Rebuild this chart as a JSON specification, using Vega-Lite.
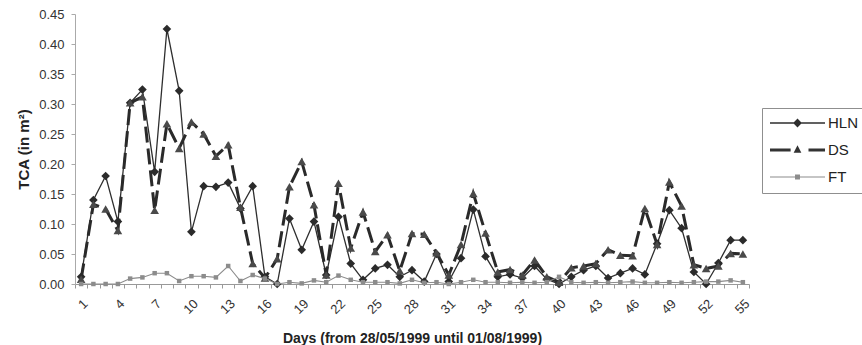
{
  "$schema": "https://vega.github.io/schema/vega-lite/v6.json",
  "width": 674,
  "height": 270,
  "autosize": {"type": "none"},
  "padding": {"left": 75, "top": 14, "right": 113, "bottom": 61},
  "background": "white",
  "config": {
    "view": {"stroke": null},
    "font": "Liberation Sans",
    "axisX": {"labelAngle": -45},
    "legend": {"labelFont": "Liberation Sans", "labelFontSize": 15, "labelColor": "#222", "labelOffset": 3, "labelLimit": 0, "symbolOpacity": 1, "symbolStrokeWidth": 0, "clipHeight": 14, "rowPadding": 12, "padding": 8, "strokeColor": "#8f8f8f", "fillColor": "white"}
  },
  "data": {"values": [
    {"day":1,"series":"HLN","tca":0.012},{"day":2,"series":"HLN","tca":0.14},{"day":3,"series":"HLN","tca":0.18},{"day":4,"series":"HLN","tca":0.104},{"day":5,"series":"HLN","tca":0.302},
    {"day":6,"series":"HLN","tca":0.324},{"day":7,"series":"HLN","tca":0.187},{"day":8,"series":"HLN","tca":0.425},{"day":9,"series":"HLN","tca":0.322},{"day":10,"series":"HLN","tca":0.087},
    {"day":11,"series":"HLN","tca":0.163},{"day":12,"series":"HLN","tca":0.162},{"day":13,"series":"HLN","tca":0.169},{"day":14,"series":"HLN","tca":0.126},{"day":15,"series":"HLN","tca":0.163},
    {"day":16,"series":"HLN","tca":0.012},{"day":17,"series":"HLN","tca":0.0},{"day":18,"series":"HLN","tca":0.109},{"day":19,"series":"HLN","tca":0.057},{"day":20,"series":"HLN","tca":0.104},
    {"day":21,"series":"HLN","tca":0.015},{"day":22,"series":"HLN","tca":0.112},{"day":23,"series":"HLN","tca":0.034},{"day":24,"series":"HLN","tca":0.007},{"day":25,"series":"HLN","tca":0.026},
    {"day":26,"series":"HLN","tca":0.032},{"day":27,"series":"HLN","tca":0.012},{"day":28,"series":"HLN","tca":0.023},{"day":29,"series":"HLN","tca":0.004},{"day":30,"series":"HLN","tca":0.05},
    {"day":31,"series":"HLN","tca":0.004},{"day":32,"series":"HLN","tca":0.043},{"day":33,"series":"HLN","tca":0.124},{"day":34,"series":"HLN","tca":0.046},{"day":35,"series":"HLN","tca":0.012},
    {"day":36,"series":"HLN","tca":0.016},{"day":37,"series":"HLN","tca":0.01},{"day":38,"series":"HLN","tca":0.03},{"day":39,"series":"HLN","tca":0.008},{"day":40,"series":"HLN","tca":0.0},
    {"day":41,"series":"HLN","tca":0.012},{"day":42,"series":"HLN","tca":0.023},{"day":43,"series":"HLN","tca":0.03},{"day":44,"series":"HLN","tca":0.01},{"day":45,"series":"HLN","tca":0.018},
    {"day":46,"series":"HLN","tca":0.026},{"day":47,"series":"HLN","tca":0.016},{"day":48,"series":"HLN","tca":0.067},{"day":49,"series":"HLN","tca":0.123},{"day":50,"series":"HLN","tca":0.093},
    {"day":51,"series":"HLN","tca":0.02},{"day":52,"series":"HLN","tca":0.0},{"day":53,"series":"HLN","tca":0.035},{"day":54,"series":"HLN","tca":0.073},{"day":55,"series":"HLN","tca":0.073},

    {"day":1,"series":"DS","tca":0.008},{"day":2,"series":"DS","tca":0.133},{"day":3,"series":"DS","tca":0.125},{"day":4,"series":"DS","tca":0.089},{"day":5,"series":"DS","tca":0.302},
    {"day":6,"series":"DS","tca":0.312},{"day":7,"series":"DS","tca":0.123},{"day":8,"series":"DS","tca":0.267},{"day":9,"series":"DS","tca":0.226},{"day":10,"series":"DS","tca":0.27},
    {"day":11,"series":"DS","tca":0.25},{"day":12,"series":"DS","tca":0.213},{"day":13,"series":"DS","tca":0.232},{"day":14,"series":"DS","tca":0.128},{"day":15,"series":"DS","tca":0.034},
    {"day":16,"series":"DS","tca":0.01},{"day":17,"series":"DS","tca":0.042},{"day":18,"series":"DS","tca":0.162},{"day":19,"series":"DS","tca":0.204},{"day":20,"series":"DS","tca":0.132},
    {"day":21,"series":"DS","tca":0.015},{"day":22,"series":"DS","tca":0.168},{"day":23,"series":"DS","tca":0.06},{"day":24,"series":"DS","tca":0.12},{"day":25,"series":"DS","tca":0.054},
    {"day":26,"series":"DS","tca":0.082},{"day":27,"series":"DS","tca":0.022},{"day":28,"series":"DS","tca":0.084},{"day":29,"series":"DS","tca":0.083},{"day":30,"series":"DS","tca":0.052},
    {"day":31,"series":"DS","tca":0.015},{"day":32,"series":"DS","tca":0.066},{"day":33,"series":"DS","tca":0.151},{"day":34,"series":"DS","tca":0.085},{"day":35,"series":"DS","tca":0.02},
    {"day":36,"series":"DS","tca":0.024},{"day":37,"series":"DS","tca":0.015},{"day":38,"series":"DS","tca":0.04},{"day":39,"series":"DS","tca":0.012},{"day":40,"series":"DS","tca":0.003},
    {"day":41,"series":"DS","tca":0.027},{"day":42,"series":"DS","tca":0.03},{"day":43,"series":"DS","tca":0.034},{"day":44,"series":"DS","tca":0.057},{"day":45,"series":"DS","tca":0.048},
    {"day":46,"series":"DS","tca":0.047},{"day":47,"series":"DS","tca":0.126},{"day":48,"series":"DS","tca":0.066},{"day":49,"series":"DS","tca":0.17},{"day":50,"series":"DS","tca":0.13},
    {"day":51,"series":"DS","tca":0.032},{"day":52,"series":"DS","tca":0.026},{"day":53,"series":"DS","tca":0.03},{"day":54,"series":"DS","tca":0.051},{"day":55,"series":"DS","tca":0.05},

    {"day":1,"series":"FT","tca":0.0},{"day":2,"series":"FT","tca":0.0},{"day":3,"series":"FT","tca":0.0},{"day":4,"series":"FT","tca":0.0},{"day":5,"series":"FT","tca":0.009},
    {"day":6,"series":"FT","tca":0.011},{"day":7,"series":"FT","tca":0.018},{"day":8,"series":"FT","tca":0.018},{"day":9,"series":"FT","tca":0.005},{"day":10,"series":"FT","tca":0.013},
    {"day":11,"series":"FT","tca":0.013},{"day":12,"series":"FT","tca":0.011},{"day":13,"series":"FT","tca":0.03},{"day":14,"series":"FT","tca":0.005},{"day":15,"series":"FT","tca":0.015},
    {"day":16,"series":"FT","tca":0.009},{"day":17,"series":"FT","tca":0.0},{"day":18,"series":"FT","tca":0.003},{"day":19,"series":"FT","tca":0.001},{"day":20,"series":"FT","tca":0.006},
    {"day":21,"series":"FT","tca":0.003},{"day":22,"series":"FT","tca":0.014},{"day":23,"series":"FT","tca":0.007},{"day":24,"series":"FT","tca":0.003},{"day":25,"series":"FT","tca":0.003},
    {"day":26,"series":"FT","tca":0.003},{"day":27,"series":"FT","tca":0.001},{"day":28,"series":"FT","tca":0.007},{"day":29,"series":"FT","tca":0.002},{"day":30,"series":"FT","tca":0.003},
    {"day":31,"series":"FT","tca":0.0},{"day":32,"series":"FT","tca":0.003},{"day":33,"series":"FT","tca":0.007},{"day":34,"series":"FT","tca":0.003},{"day":35,"series":"FT","tca":0.003},
    {"day":36,"series":"FT","tca":0.002},{"day":37,"series":"FT","tca":0.003},{"day":38,"series":"FT","tca":0.002},{"day":39,"series":"FT","tca":0.003},{"day":40,"series":"FT","tca":0.012},
    {"day":41,"series":"FT","tca":0.003},{"day":42,"series":"FT","tca":0.002},{"day":43,"series":"FT","tca":0.003},{"day":44,"series":"FT","tca":0.002},{"day":45,"series":"FT","tca":0.003},
    {"day":46,"series":"FT","tca":0.004},{"day":47,"series":"FT","tca":0.002},{"day":48,"series":"FT","tca":0.002},{"day":49,"series":"FT","tca":0.003},{"day":50,"series":"FT","tca":0.002},
    {"day":51,"series":"FT","tca":0.003},{"day":52,"series":"FT","tca":0.004},{"day":53,"series":"FT","tca":0.004},{"day":54,"series":"FT","tca":0.006},{"day":55,"series":"FT","tca":0.003}
  ]},
  "encoding": {
    "x": {
      "field": "day", "type": "ordinal",
      "scale": {"type": "band", "paddingInner": 0, "paddingOuter": 0},
      "axis": {
        "title": "Days (from 28/05/1999 until 01/08/1999)",
        "titleFont": "Liberation Sans", "titleFontSize": 14, "titleFontWeight": "bold", "titleColor": "#222", "titlePadding": 15,
        "labelExpr": "(datum.value - 1) % 3 === 0 ? datum.label : ''",
        "labelAngle": -45,
        "labelFont": "Liberation Sans", "labelFontSize": 13, "labelColor": "#333", "labelPadding": 9,
        "labelOverlap": false, "labelBound": false, "labelFlush": false,
        "tickBand": "extent", "tickSize": 4, "tickColor": "#999", "domainColor": "#999", "grid": false
      }
    },
    "y": {
      "field": "tca", "type": "quantitative",
      "scale": {"domain": [0, 0.45], "nice": false, "zero": true},
      "axis": {
        "title": "TCA (in m²)",
        "titleFont": "Liberation Sans", "titleFontSize": 15, "titleFontWeight": "bold", "titleColor": "#222", "titlePadding": 7,
        "values": [0, 0.05, 0.1, 0.15, 0.2, 0.25, 0.3, 0.35, 0.4, 0.45],
        "format": ".2f", "labelFont": "Liberation Sans", "labelFontSize": 13, "labelColor": "#333", "labelPadding": 7,
        "labelOverlap": false, "labelBound": false, "labelFlush": false,
        "tickSize": 4, "tickColor": "#aaa", "domainColor": "#aaa", "grid": false
      }
    }
  },
  "layer": [
    {
      "transform": [{"filter": "datum.series === 'HLN'"}],
      "mark": {"type": "line", "color": "#2e2e2e", "strokeWidth": 1.3},
      "encoding": {}
    },
    {
      "transform": [{"filter": "datum.series === 'HLN'"}],
      "mark": {"type": "point", "shape": "diamond", "filled": true, "fill": "#2b2b2b", "size": 75, "opacity": 1}
    },
    {
      "transform": [{"filter": "datum.series === 'DS'"}],
      "mark": {"type": "line", "color": "#2a2a2a", "strokeWidth": 3, "strokeDash": [16, 6], "strokeCap": "butt"},
      "encoding": {}
    },
    {
      "transform": [{"filter": "datum.series === 'DS'"}],
      "mark": {"type": "point", "shape": "triangle-up", "filled": true, "fill": "#4a4a4a", "size": 75, "opacity": 1}
    },
    {
      "transform": [{"filter": "datum.series === 'FT'"}],
      "mark": {"type": "line", "color": "#8c8c8c", "strokeWidth": 1.1},
      "encoding": {}
    },
    {
      "transform": [{"filter": "datum.series === 'FT'"}],
      "mark": {"type": "point", "shape": "square", "filled": true, "fill": "#8c8c8c", "size": 20, "opacity": 1}
    },
    {
      "transform": [{"filter": "datum.day === 1"}],
      "mark": {"type": "point", "filled": true, "opacity": 0, "size": 10},
      "encoding": {
        "shape": {
          "field": "series", "type": "nominal",
          "scale": {
            "domain": ["HLN", "DS", "FT"],
            "range": [
              "M-1,-0.024L1,-0.024L1,0.024L-1,0.024Z M0,-0.16L0.16,0L0,0.16L-0.16,0Z",
              "M-1,-0.055L-0.25,-0.055L-0.25,0.055L-1,0.055Z M0.4,-0.055L1,-0.055L1,0.055L0.4,0.055Z M0,-0.17L0.14,0.1L-0.14,0.1Z",
              "M-1,-0.02L1,-0.02L1,0.02L-1,0.02Z M-0.09,-0.09L0.09,-0.09L0.09,0.09L-0.09,0.09Z"
            ]
          },
          "legend": {
            "orient": "none", "legendX": 687, "legendY": 94, "title": null,
            "strokeColor": "#8f8f8f", "fillColor": "white", "padding": 8,
            "symbolSize": 3025, "symbolOpacity": 1, "symbolStrokeWidth": 0, "clipHeight": 14, "rowPadding": 12,
            "labelFont": "Liberation Sans", "labelFontSize": 15, "labelColor": "#222", "labelOffset": 3, "labelLimit": 0
          }
        },
        "fill": {
          "field": "series", "type": "nominal",
          "scale": {"domain": ["HLN", "DS", "FT"], "range": ["#2e2e2e", "#333333", "#8c8c8c"]},
          "legend": {
            "orient": "none", "legendX": 687, "legendY": 94, "title": null,
            "symbolSize": 3025, "symbolOpacity": 1, "symbolStrokeWidth": 0, "clipHeight": 14, "rowPadding": 12,
            "labelFont": "Liberation Sans", "labelFontSize": 15, "labelColor": "#222", "labelOffset": 3, "labelLimit": 0
          }
        }
      }
    }
  ]
}
